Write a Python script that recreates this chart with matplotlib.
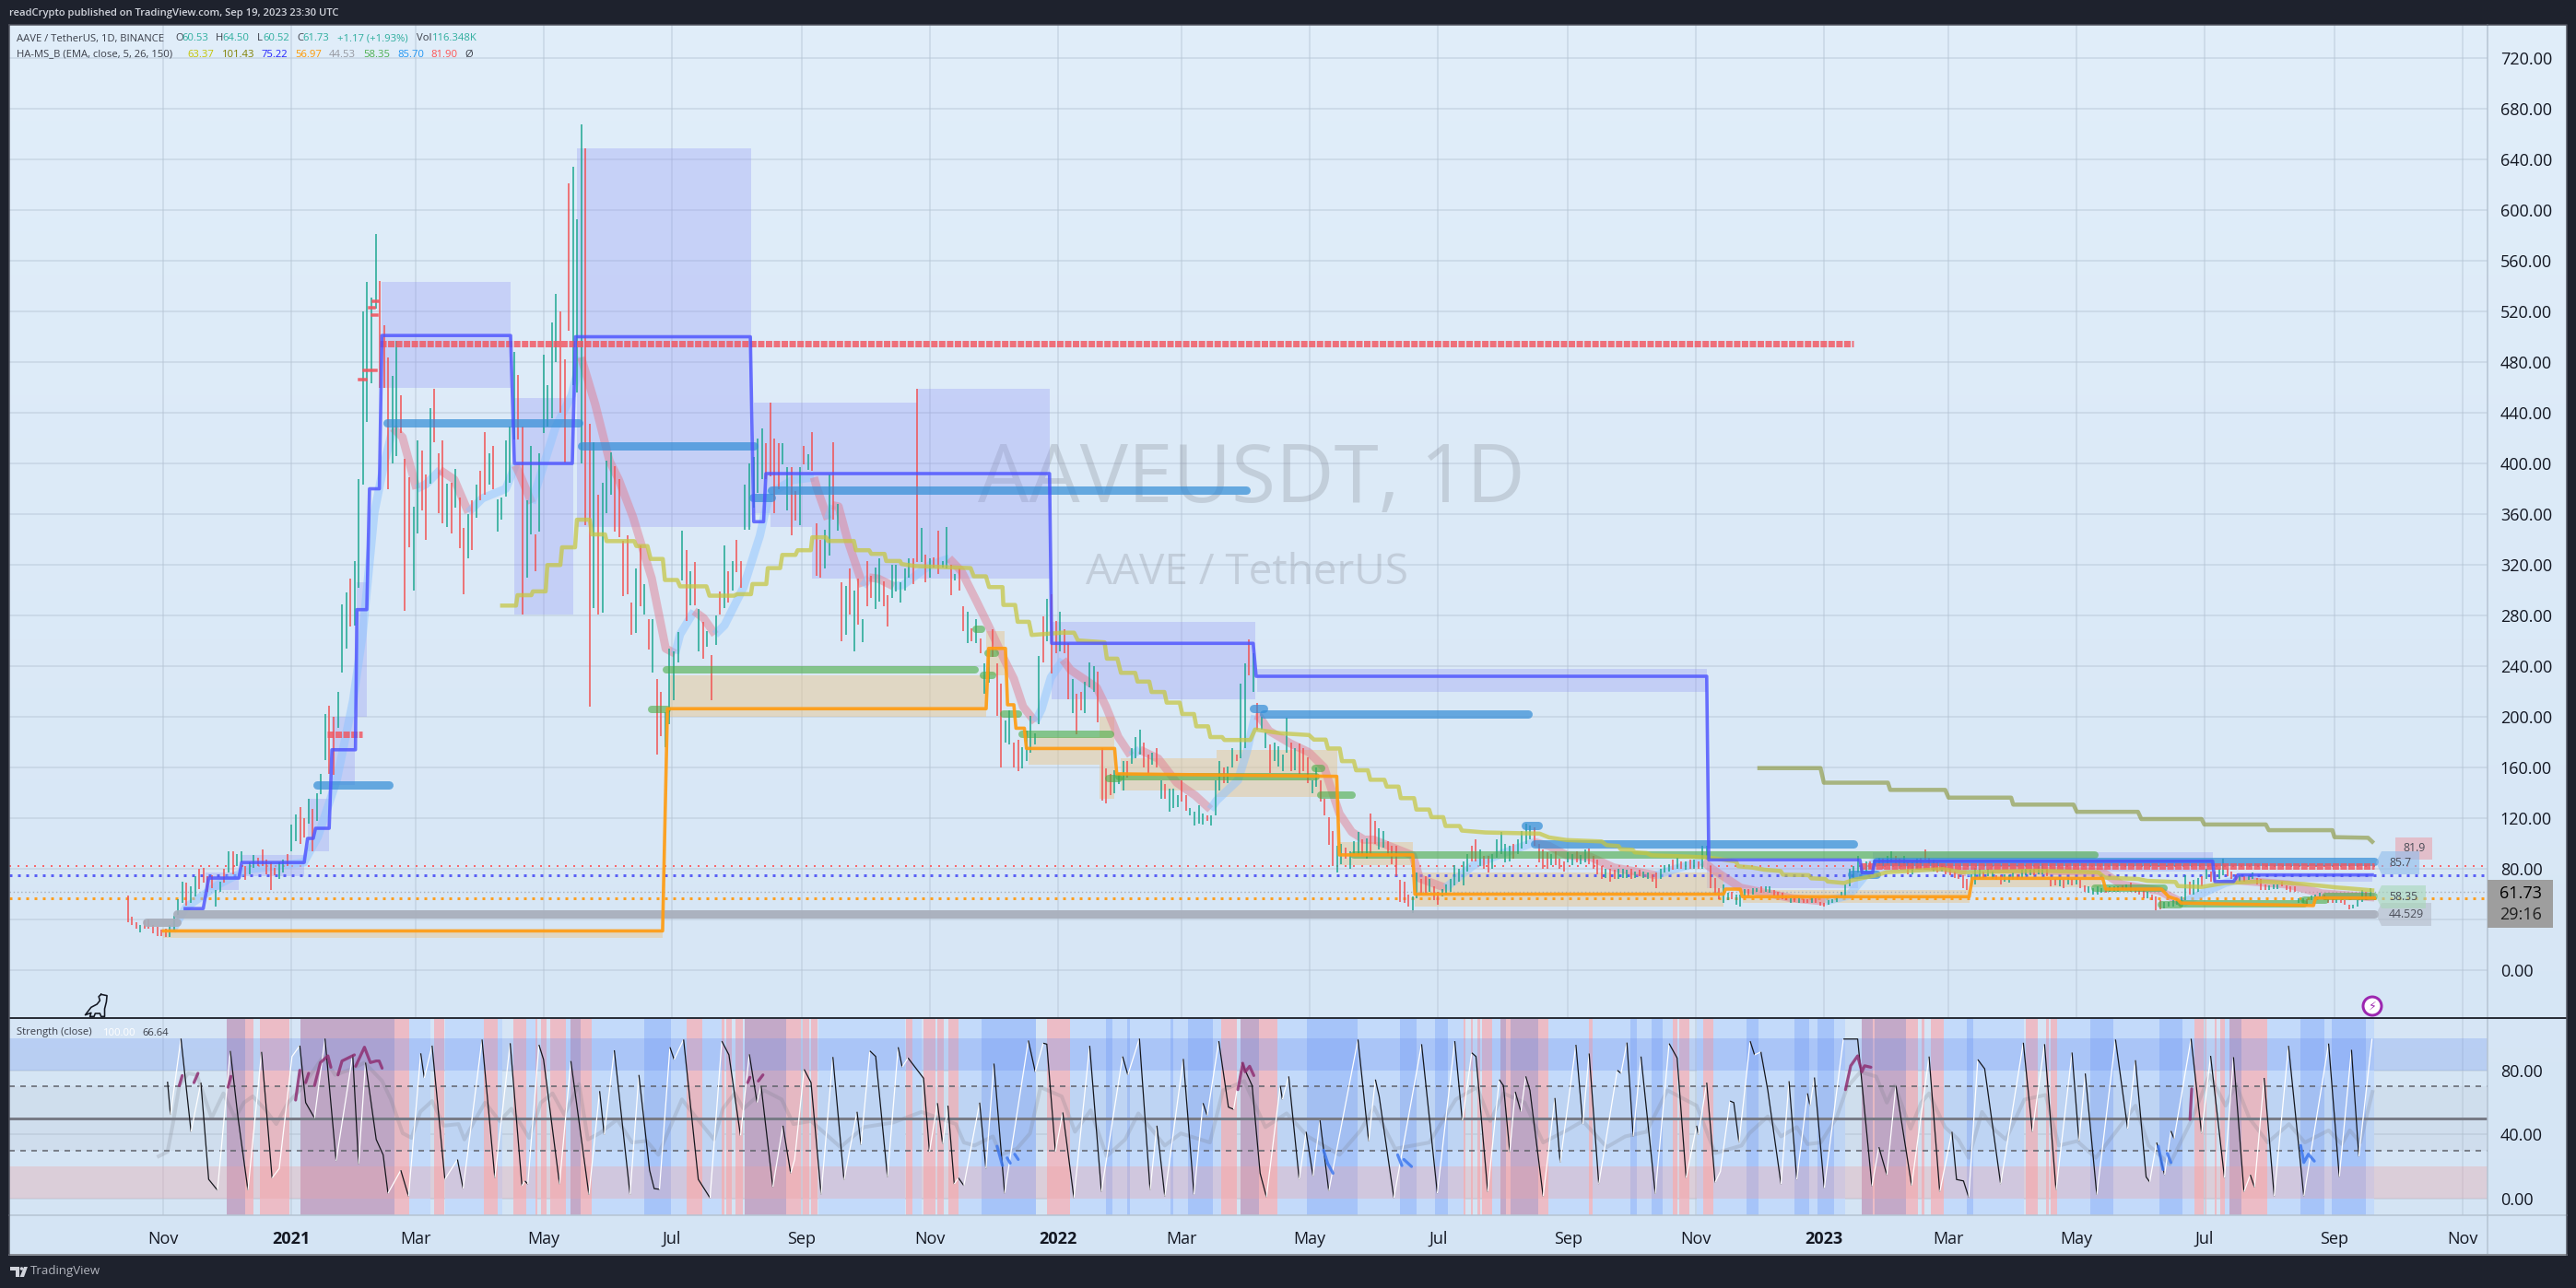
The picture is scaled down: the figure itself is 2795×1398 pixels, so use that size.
import datetime as dt
import numpy as np
import matplotlib
matplotlib.use("Agg")
import matplotlib.pyplot as plt
import matplotlib.dates as mdates
from matplotlib.collections import LineCollection
from matplotlib.patches import Polygon, Rectangle, Circle

# ---------- DATA (days are counted from 2020-11-01) ----------
candle_first_day = -17
candle_step = 2
candle_low = [38,36,33,30,33,33,29,27,27,26,26,
 31,44,53,51,53,58,64,69,62,65, 50,62,69,77,76,82,85,71,76,81,
 82,82,76,63,75,72,77,82,94,102, 100,105,116,94,118,139,166,155,154,191,
 235,254,271,272,302,383,433,463,522,460, 460,380,400,406,424,284,334,300,345,363,
 340,384,417,361,353,350,345,365,333,297, 325,332,357,371,375,383,380,346,356,374,
 385,419,419,281,310,344,315,346,424,429, 436,480,440,401,505,462,456,400,351,208,
 286,281,282,361,375,346,342,295,297,265, 266,287,281,253,235,170,185,176,194,213,243,
 308,276,288,288,252,246,255,213,257,281,286,290,300,314,302,348,348,365,377,
 388,388,390,361,380,399,363,343,355,351, 399,395,394,311,310,317,327,356,347,260,
 265,281,252,273,259,287,294,285,291,287, 271,294,299,290,300,310,305,322,322,306,
 310,318,313,318,317,296,308,300,268,258, 260,258,250,218,227,247,201,160,180,178,
 160,157,159,165,172,178,194,243,260,234, 250,252,250,214,203,186,205,203,223,220,
 196,134,132,138,140,147,142,152,163,167, 170,160,155,162,160,135,135,125,128,129,
 133,126,122,114,116,115,118,114,122,142, 148,148,160,165,167,175,233,220,190,190,
 175,156,165,161,157,172,157,158,155,157, 148,140,145,133,122,99,82,
 77,84,88,80,92,91,90,88,92,100, 95,97,90,84,74,54,53,50,45,57,
 60,60,62,55,52,58,60,62,67,70, 67,78,86,86,82,80,77,80,89,92,
 85,86,88,92,96,100,103,98,85,80, 80,83,83,80,78,
 85,83,85,84,85,84,80,76,72,73, 70,72,72,73,73,72,73,74,73,72,
 70,65,72,77,78,79,80,80,79,80, 80,80,80,87,65,60,56,53,55,56,
 52,50,58,58,60,62,61,62,61,59, 58,56,55,53,54,53,53,53,53,53,
 51,50,52,53,54,58,58,66,73,77, 76,77,80,83,82,80,83,85,84,80,
 82,76,76,80,80,87,84,78,77,78, 76,75,73,72,65,63,66,68,72,73,
 74,72,71,68,70,69,71,71,73,75, 75,75,76,76,74,66,67,66,65,68,
 67,68,65,62,61,60,60,61,61,62, 62,62,63,63,62,61,60,57,57,55,
 47,48,49,50,50,52,53,55,60,60, 62,66,72,70,70,72,75,74,72,71,
 70,70,71,72,68,63,63,63,64,64, 66,63,62,62,
 53,53,52,55,56,58,56,53,53,53,53,52,48,49,50,54,55,56]
candle_high = [59,42,38,36,39,40,36,34,32,33,36,
 43,56,70,69,66,74,80,81,74,75, 63,70,80,94,94,92,94,82,85,91,
 89,95,87,85,81,85,87,92,115,123, 129,120,135,127,140,155,202,209,200,220,
 289,298,309,323,388,520,543,531,581,544, 509,484,469,497,454,404,389,366,418,410,
 391,444,459,408,418,384,385,396,373,349, 360,371,383,394,425,408,414,372,373,418,
 429,488,470,429,371,414,344,408,486,462, 511,534,520,482,621,634,593,668,649,431,
 417,375,385,402,409,398,388,339,343,290, 317,335,305,277,277,230,220,204,254,252,267,
 347,332,315,322,285,275,268,249,280,299,335,315,323,340,323,383,400,405,420,
 428,416,448,420,416,416,397,397,378,397, 414,407,425,353,340,348,391,417,368,306,
 303,317,300,309,277,323,311,318,325,307, 296,320,320,306,317,325,325,459,349,328,
 325,326,347,323,350,320,313,317,287,283, 270,277,262,242,254,269,242,226,197,205,
 180,182,176,189,201,187,248,279,293,297, 276,283,269,258,230,218,220,228,243,240,
 236,175,159,155,158,156,165,165,175,184, 190,180,170,172,175,150,147,143,143,138,
 150,138,128,125,130,124,122,122,150,165, 160,161,175,170,226,242,261,250,211,200,
 188,178,180,177,170,199,180,175,179,175, 168,150,160,150,135,121,110,
 98,100,97,94,102,109,103,104,124,118, 112,110,102,98,98,71,70,60,58,77,
 72,74,72,66,62,64,68,72,83,80, 86,92,98,103,95,90,90,92,103,109,
 100,98,100,103,110,116,114,113,100,95, 93,92,94,88,86,
 93,92,94,91,95,96,90,87,82,80, 80,79,80,80,79,80,78,79,78,77,
 76,77,80,83,84,87,89,86,86,87, 87,86,98,98,82,73,65,68,61,62,
 60,60,64,64,65,65,66,66,66,63, 62,61,59,57,58,57,56,56,57,57,
 54,53,55,56,58,62,68,80,82,90, 84,86,86,87,89,88,90,94,90,88,
 90,85,85,88,89,95,89,87,85,84, 82,80,78,76,75,72,76,81,80,78,
 80,78,75,75,76,75,77,76,79,80, 79,80,82,84,80,71,72,72,71,73,
 72,72,71,67,66,65,66,65,65,66, 66,66,67,68,69,65,63,63,62,60,
 58,55,54,54,55,56,58,75,70,71, 73,74,80,78,78,80,88,80,78,76,
 75,74,75,77,73,72,68,67,68,68, 70,67,66,66,
 57,57,56,59,60,61,60,56,56,56,55,55,52,52,55,63,62,64.5]
candle_dir = ("rrrgrrrrrrg" "gggrggrrrr" "ggrgrggrgg" "rrrrrggrgg" "rrgrgggrrg"
 "ggrggggggr" "rrggrrrggr" "rgrrrgrgrr" "grgrrgrggg" "ggrrggrggg" "ggrrrgggrr"
 "grgggrrrrr" "grgrgrrgggg" "grgrgrgrgrgrgrrgggg" "grrrrggrrg" "rgrrrggrgr"
 "grgrgrrggr" "rgggggrrgr" "grrggrgrrg" "rgrggrrrgg" "rrgggggrgr" "rgrrgrrggg"
 "rrrrgggrgg" "grrgrgrggg" "rrggggrggg" "rggrggrgrg" "grggggrgrr" "rggrrrr"
 "ggrgggrgrr" "ggrrrrrrgg" "rrgrrggggg" "ggrrgrrggg" "ggrggggrrr" "rgrrr"
 "ggrggrrrrg" "rrgggrgrgg" "rrgggrgrgr" "grggrrrggr" "gggrggrggr" "rrrgrgrrgr"
 "rrgggggggg" "rgrggrggrr" "grggrrrgrg" "rrrrrrgggr" "ggrrgggrgg" "grggrrrgrg"
 "rgrrggggrg" "ggrgrrrrgr" "rrggggggrg" "grgrrggrrr" "grggrrrggg" "rrrr"
 "ggrgggrrrgrrrgggrg")

ema_day = [4,10.8,26.5,39.9,66.8,73.5,82.5,90.3,94.8,100.4,104.9,109.3,113.8,120.5,125,131.7,138.5,145.2,151.9,163,167.6,169.8,175.4,181,186.6,194.4,198.9,205.6,212.4,216.8,223.6,232.5,239.2,243.7,246,252.7,257.2,262.7,267.2,276.2,284,288.5,299.7,309.8,311.2,316.4,318.6,321.5,325.9,333.2,336.1,340.5,347.8,352.2,361,365.4,374.2,380,387.3,393.2,400.5,405,409.4,415.2,418.2,422.6,428.4,432,444.5,448.9,454.8,460.6,465,473.8,482.6,491.3,498.6,501.6,511.8,516.2,519.9,522,526.5,536.7,545.5,552.8,560.1,566,571.8,576.2,595,598.3,610.6,624,637.5,653.1,659.9,668.4,679.5,690.7,710.9,719.8,733.3,737.7,751.2,775.8,791.5,802.7,809.4,813.9,822.8,847.5,858.7,869.9,923.6,932.6,950.5,961.7,970.7,981.9,987,1012,1028,1053]
ema_val = [31,49.7,68,79.4,85,105.3,150,213,265,361,398.5,428,420.7,380,383.6,394.8,387.3,361.4,372.5,380,398.5,391,368.8,398.5,428,454,483.8,446.7,402,387.3,357.7,309.4,253.8,250,265,283.4,278,265,272.3,302,342.8,376,387,389,380.5,356,367,366,339,303,310,309,303,304,315,320,325,315,291,271,245,230,208,196,206,231,245,237,223,208,184,169.5,174,167,148,138,127,134,150,174,201,200,189,179,172,160,123.5,109,103,103,90.6,72.5,65,83,92,101,98,90.6,89.5,81,75,79.8,85.8,79.8,65,56.7,54.3,59,72.5,84.6,85.8,81,77.3,79.8,77.3,67.6,62.8,53,60.4,68.8,71,67.6,60.5,57.5]

blue_step_day = [10.3,18.9,21.5,35.9,37.2,67,68.6,71.3,72.4,78.9,80.2,91.4,92.1,96.8,98.1,102.8,104,165.3,167.1,194.7,196.2,279.5,281.1,285.8,286.9,422,423,519,520.4,735,736,808,809,814,815,976,977,986,988,1052]
blue_step_val = [48.6,48.6,72.7,72.7,85,85,104,104,112,112,174,174,284.6,284.6,380,380,501,501,400,400,500,500,354,354,392,392,258,258,232,232,87,87,77,77,86,86,70,70,75.2,75.2]

orange_step_day = [0,237.7,240,391.8,393,401,402,405,406,410,411,453,454,558.8,560,595,596,743,744,751,752,860,861.5,923.6,925,951.6,955,959.5,961,1024,1025,1053]
orange_step_val = [31,31,206.4,206.4,254,254,209.5,209.5,191,191,175,175,155,153,91,91,60,60,64,64,58,58,72.5,72.5,64,64,58,55.5,53,51,57,57]

olive_step_day = [161.3,167.9,168.6,175.2,175.9,182,182.8,189,189.8,196,196.9,203,204,210.3,211,224.2,225.2,230.5,232,237.8,238.8,244.7,246,258.6,260,271.7,273.2,279.8,280.5,287.1,287.8,293.7,294.7,301,302,308.3,309,315.6,316.4,328.8,329.8,336.1,337.1,343.4,344.2,350.8,351.5,358,384.4,385.9,391.7,393.2,399.6,400,405.6,406.8,412.2,413.5,428,433.7,435.5,448.2,449.3,454.3,456,462.8,463.9,469.5,470.6,476.7,477.8,484,485.2,490.8,491.9,497.5,498.6,504.2,505.3,517.6,519.9,532.2,545.6,547.9,553.5,554.6,560.2,561.3,566.9,568,573.6,574.8,581.5,582.6,588.2,589.3,595.6,596.7,602.8,603.9,609.5,610.6,617.3,618.4,629.6,655.4,659.9,668.4,685,687.3,693,694,699.7,700.8,706.4,708.6,721,735.5,749,750,756.8,762.4,770.2,771.3,783.6,784.8,791.5,792.6,800.4,805,816,820.6,847.5,856.4,892,921.4,924.7,940.4,944.9,958.3,959.4,970.7,981.9,999.8,1019.5,1035,1042.8,1052]
olive_step_val = [287.8,287.8,296,296,299,299,319.8,319.8,333.8,333.8,355.6,355.6,344,344,338.7,338.7,334.8,334.8,324.6,324.6,308,308,303,303,295.6,295.6,296.8,296.8,304.8,304.8,317.4,317.4,327.8,327.8,331.5,331.5,341.7,341.7,338.8,338.8,331.5,331.5,328.6,328.6,323,323,320.6,319,317.4,310.9,310.9,302.4,302.4,288.3,288.3,275,275,264.6,266.4,266.4,260.3,258.8,245.9,245.9,234.7,234.7,227.8,227.8,219.6,219.6,211.2,211.2,202.2,202.2,192.5,192.5,184,184,181.7,181.7,190,187,185.6,182,182,175,175,165,165,157.8,157.8,150.3,150.3,144.9,144.9,135.8,135.8,126.8,126.8,120.8,120.8,113.8,113.8,110.2,108.7,107.8,104.8,102.7,101.6,98.7,98,95.5,95,93,92.4,90.7,90,89,85.8,82,81,79.3,78.3,75.4,75,72.5,72,70,68.8,71.3,75,77.3,79.8,77.3,78.5,77.3,73,72,70.5,69.6,66.4,65.7,68.8,70,68,65.3,64.3,63]

dark_olive_day = [760.1,789.2,790.8,821.3,822.4,848.6,850.2,880,881,909.7,911.3,940.4,942,970.7,972,1001.3,1002.7,1033,1034,1050,1052]
dark_olive_val = [159.5,159.5,148,148,142.3,142.3,136.2,136.2,130.7,130.7,125,125,119.3,119.3,115,115,110.5,110.5,105,104.5,101.4]

lav_start = [20,37,68.6,80,92,104,167,197,281,289,309,359,423,521,735,814,986]
lav_end   = [36,67,79,91,97,165.5,195,280,289,309,359,422,520,735,807,976,1052]
lav_low   = [63,74,94,146,200,460,281,350,361,350,309,309,214,220,65,78,70]
lav_high  = [77,91,135,200,306,543,452,649,448,448,448,459,275,238,85,93,75.5]

tan_start = [0,241,391.7,412,446,456,501.6,560,596,752,861]
tan_end   = [237.7,392,400.8,446,453,501.6,559,595,743,860,923]
tan_low   = [25.5,200,233,162,135,142,137,83,50,53,65.7]
tan_high  = [31,233,268,184,200,167,174,101,77,63,78.5]

green_start = [232.5,239.6,387,390.5,392.7,400,409,450.4,455,548.5,551.3,567,920,951.6,961,1019.6,1029.7]
green_end   = [240,386.6,389.5,395,396,407,451,455,549,551.5,566,920,952.7,960.5,1019.6,1029.7,1053]
green_level = [205.5,237.4,269.4,232.6,250,202,186.5,151,153,159,138,91,64.7,51.6,52.6,55.5,58.35]

sky_start = [73,106.6,199,280.7,289.4,519,524,648.6,653,803.8,816]
sky_end   = [107.5,198,281,289.6,515.4,524,650,654.9,805,816,1053]
sky_level = [146,432,413.7,373,379,206.7,202,114,99.3,75.4,85.7]

grey_start = [-8,6.3]
grey_end   = [6.3,1053]
grey_level = [38,44.53]

red_start = [103,78,808]
red_end   = [805,94.8,1053]
red_level = [494.6,186,81.9]
cross_start = [93.5,95.5,98,100,99.5]
cross_end   = [96.5,101,100.5,102,101.5]
cross_level = [466,473.5,523,528,517]

last_red, last_blue, last_orange, last_price = 81.9, 75.22, 56.97, 61.73

mauve_start = [30,65,194,276.6,513,636.7,641.5,809,815,984]
mauve_end   = [39,110,198.7,296.7,521.8,639.5,654.9,814,829.9,989.9]
rose_start = [39,46,110,129,152.5,166.5,177,179.7,184,198.7,249,266,268,272.6,296.7,304.6,308.5,353.7,361.8,368.6,373.6,420.7,503.6,521.8,619,622.7,625.6,627.9,639.5,654.9,678.8,718.9,722,733.5,814,829.9,837.2,841.7,887,896.6,898.9,967.5,972.5,977,979.8,989.9,1000.7]
rose_end   = [43,60,117,133.5,159,172.6,178,182.5,191.7,204,256.7,267,270.5,276,303.7,307.4,311.5,356.5,367.8,371.6,378.6,431.6,511,530.6,620,623.7,627,632.7,641.5,659.6,680.6,721,726.7,738.3,815,835.7,838.7,848,892.9,898,901.9,971.5,973,978,981.8,1000.5,1002]
sky_band_start = [117,134,159,172.6,191.7,204,241.5,256.7,312,356.5,378.6,431.6,452,460.5,481,500,530.6,568.7,596.9,611.8,632.7,659.6,680.6,701.7,713.8,730.2,738.3,759.5,783.7,795.8,848,862,901.9,928.6,961.7,981.8,1002,1029,1049]
sky_band_end   = [127,152.5,161.5,177,194,229,249,266,353.2,361,389.5,448.7,458.8,479.4,488,503.6,544.7,588.8,605.5,619,636.7,678.8,698.7,708.8,718.9,733.5,754,777,787.8,800.9,858.8,886,917.8,950.8,967.5,984,1018,1032.8,1053]
deep_band_start = [229,389.5,448.7,458.8,479.4,488,544.7,588.8,605.5,698.7,708.8,754,777,787.8,858.8,917.8,950.8,1018,1032.8]
deep_band_end   = [241.5,415.7,452,460.5,481,500,568.7,596.9,611.8,701.7,713.8,759.5,783.7,795.8,862,928.6,961.7,1029,1049]

osc_day = [1.9,3.3,8.3,13.1,17.8,21.5,25.7,31.8,35.5,40.2,46.7,51.7,55.1,61.2,64.9,67.7,71.9,76.9,82.2,90.1,92.9,96.2,101.3,104.6,106.9,113,116.7,122.5,124.2,127.9,134,140,142.7,151.7,157.8,165.1,170.7,172.1,173.5,178.8,181,188.6,194,202.6,207.7,209.9,214.7,222.2,226.4,231.5,233.7,236.2,241.2,243.2,247.7,254.7,260.3,265.9,269.3,274.8,279,282.7,284.6,290.2,295,298.7,300.6,305.1,308.4,313.2,318.8,324.1,330.3,332.2,336.4,339.2,344.8,349.9,351.8,354.6,362,364.8,368.6,371.1,373.6,376.6,378.6,381.2,388.7,391.7,395.5,400.6,411.9,415.2,419,420.7,424.8,428.3,433.6,441.1,446.7,456.8,459.3,464.8,469.9,473.1,476.9,485.7,490.8,495.1,497.1,502.6,507.2,509.7,513.5,518.5,522.3,525.3,531.9,532.9,535.9,540.9,544.2,547.5,550.8,555,568.9,574,577.2,579,586,599.2,606.7,615,618.6,623.1,625.1,630.7,636.2,638.2,641.2,643.8,646.5,648.8,650.8,657.1,662.7,665.2,672.7,676,679,683.6,692.4,694.2,697,700,703.7,710.5,717.1,720.9,725.2,730.2,731,735,739,741.5,746.1,747.9,750.4,755.7,757.8,760.8,764.1,770.4,774.2,777.9,783,784.2,786.3,791,800.1,806.9,813.7,817,820.8,825.1,832.6,840.9,846,851.8,854,857.3,859.8,864.1,867.4,875,885.8,890.1,895.9,901.4,909,912.3,915.3,920.8,929.7,935.5,939.2,944.3,946,949.3,953.1,956.1,957.6,965.7,970.7,975,981.6,985.9,990.9,993.9,995.9,1000.5,1005.3,1012.1,1019.4,1031.2,1036.3,1042.1,1045.6,1051.9]
osc_val = [72.9,52.2,99.8,41.6,72.3,11.9,5.1,92.1,50.2,5.1,91.5,12.8,18.6,88.6,95.4,59.8,50.2,99.8,23.4,89.6,21.5,84.8,36.8,27.2,3.2,17.6,1.3,90.6,75.2,95.4,11.9,24.3,6.1,99.2,12.8,96.9,8,10.9,9,95.9,86.7,9,85.8,2.3,67,39.7,92.5,2.3,77.1,17.6,6.1,5.7,94.4,86.7,99.2,11.9,0.3,98.2,89.6,39.1,90,59.8,70.4,7.1,45.4,15.7,24.3,80.6,72.3,2.6,88.3,11.5,54.1,33.5,92.1,88.6,13.4,94.4,82,87.7,75,29.1,59.5,33.9,57.9,9,12.8,8,59.8,18.6,84.2,3.2,98.6,79,96.9,96.3,29.1,53.7,0.3,95.3,4.2,88.6,77.1,99.8,5.1,45.4,1.3,87.1,2.3,59.5,51.6,98.2,57,55.6,84.8,70.4,15.7,0.9,70.4,61.8,76.2,11.9,41.6,13.8,48.9,4.6,99.2,35.8,74.2,63.7,0.3,96.3,3.2,98.2,48.3,90.9,88.6,4.2,74.2,70.4,29.1,66.6,54.1,76.2,67.5,1.3,62.7,22.4,95.9,46.4,90.5,9,80,78.1,97.3,38.7,88.6,2.8,96.7,87.7,12.8,45.4,39.7,72.3,10,16.7,60.8,59.8,34.9,98.2,89.6,91.5,67.5,8.9,73.2,11.8,65.6,57.9,75.5,6.4,99.5,99.5,7.6,32,14.7,70.4,8,88.6,4.1,41.6,11.8,10.9,0.7,86.7,80.9,9,97.2,41.6,96.3,5.1,91.1,35.8,78,2.2,99.2,43.5,86.3,13.4,10.3,34.9,14.7,42.1,37.3,99.7,40.6,89,12.8,88.2,4.1,14.7,7,75.2,1.3,95.3,1.3,96.7,13.4,92.8,26.2,99.7]

rsi_day = [-2.3,1.9,4.7,7.5,11.7,15.9,22.9,28.5,34.1,38.3,42.5,48.1,53.7,59.3,64.9,76.1,81.7,90.1,95.7,104.1,108.3,113.9,118.1,122.3,127.9,133.5,140.5,143.3,148.9,153.1,160.1,165.7,174.1,179.7,185.3,190.9,197.9,202.1,207.7,216.1,223.1,230.1,235.7,241.3,246.9,253.9,262.2,266.4,272,276.2,286,294.4,300,308.4,322.4,333.6,347.6,361,377.4,381.2,386.2,395,398.8,406.4,412.7,417.7,427.8,434.1,441.6,449.2,458,464.3,476.9,484.5,498.4,504.6,514.7,524.8,534.9,545,560.1,570.2,576.5,586.6,602.9,615.5,625.6,631.9,638.2,648.3,657.1,668.5,676,687.4,696.2,706.3,716.3,730.2,739,751.6,755.3,764.1,770.4,777.9,783,789.3,796.8,801.9,808.2,815.7,820.8,824.6,832.1,837.2,840.9,848.5,854.8,859.8,866.1,872.4,877.5,886.3,896.4,902.7,911.5,920.3,930.4,939.2,945.5,955.6,965.7,974.5,982.1,987.1,993.4,1002.2,1012.3,1019.9,1031.2,1037.5,1041.3,1046.3,1052.1]
rsi_val = [26.3,29.1,48.3,70.4,78.1,77.1,50.2,65.6,50.2,59.8,63.7,56,46.4,59.8,67.5,88.6,77.1,81,84.8,73.3,61.8,40.7,37.8,54.1,60.8,45.4,46.4,36.8,50.2,59.8,48.3,56,37.8,59.8,65.6,52.2,71.4,36.8,40.7,49.3,34.9,35.9,27.2,44.5,61.8,50.2,36.8,56,65.6,56,67.5,61.8,46.4,48.3,32,44.5,47.4,54,46.4,34.9,33,38.7,27.2,31,40.6,69.4,63.7,41.6,55,26.3,36.8,53.1,33,40.6,34.9,67.5,73.3,44.5,53.1,38.7,27.2,42.6,57,31,34.9,61.8,69.4,48.3,65.6,59.8,34.9,42.6,48.3,32,38.7,41.6,67.5,57.9,28.2,33,40.6,51.2,38.7,44.5,33.9,34.9,50.2,69.4,79,76.1,59.8,70.4,43.5,59.8,65.6,44.5,36.8,25.3,54,42.5,36.8,61.7,64.6,33,35.8,25.3,42.5,57.9,33,21.4,48.3,77.1,57.9,71.3,50.2,34.9,46.4,34.9,42.5,33.9,42.5,34.9,66.5]

purple_runs = [([7.5,8.9],[70.4,76.7]),([14.5,16.4],[72.3,78.1]),([30.7,32.1],[69.4,76.2]),([62.9,64.9],[61.4,80]),([67.7,69.1],[72.3,78.1]),([71.9,74.7,78.3,79.7],[70.4,84.8,89,81.9]),([83.1,85,90.9],[77.1,85.8,89.6]),([91.5,95.7,98.5,101.3,102.7,104.1],[82.5,94.4,84.8,85.8,85.8,81.3]),([278.2,279.3],[72.3,75.6]),([283.3,285.5],[73.3,77.1]),([511.7,514,515.2,517.3,519.3],[67.9,84.4,79,82.5,76.7]),([801.1,803.6,806.9,808.9,810.2,813.2],[67.9,82.8,89,79,82.8,81.9]),([965.2,966],[49.3,68.4])]
blue_runs = [([397,399.6],[32.6,20.5]),([401.8,403.3],[25.3,22]),([405.4,407.1],[27.6,24.3]),([552.5,554.5,557],[30.1,21.8,15.7]),([587.8,589.8],[27.2,20.5]),([590.8,594.4],[24.3,19.9]),([950.1,952.3],[32.6,18]),([954.4,956.1],[28.1,22.4]),([1017.9,1019.4,1021.6,1024.4],[33,22.4,27.6,23.3])]

price_ticks = list(range(0, 721, 40))
strength_ticks = [0, 40, 80]
month_labels = [("2020-11-01","Nov"),("2021-01-01","2021"),("2021-03-01","Mar"),("2021-05-01","May"),("2021-07-01","Jul"),("2021-09-01","Sep"),("2021-11-01","Nov"),("2022-01-01","2022"),("2022-03-01","Mar"),("2022-05-01","May"),("2022-07-01","Jul"),("2022-09-01","Sep"),("2022-11-01","Nov"),("2023-01-01","2023"),("2023-03-01","Mar"),("2023-05-01","May"),("2023-07-01","Jul"),("2023-09-01","Sep"),("2023-11-01","Nov")]

# ---------- FIGURE ----------
W, H = 2795, 1398
DPI = 100
px = 72 / DPI
FONT = "Open Sans"
plt.rcParams["font.family"] = [FONT, "DejaVu Sans"]
fig = plt.figure(figsize=(W / DPI, H / DPI), dpi=DPI, facecolor="#1e222d")

def box(x0, y0, x1, y1):
    return [x0 / W, 1 - y1 / H, (x1 - x0) / W, (y1 - y0) / H]

bg = fig.add_axes(box(10, 27, 2785, 1362), zorder=0)
bg.imshow(np.linspace(0, 1, 256).reshape(-1, 1), aspect="auto", extent=(0, 1, 0, 1),
          cmap=matplotlib.colors.LinearSegmentedColormap.from_list("g", ["#e1eefa", "#d4e4f4"]))
bg.axis("off")

ax = fig.add_axes(box(10, 27, 2699, 1105), zorder=1, facecolor="none")
ax2 = fig.add_axes(box(10, 1105, 2699, 1319), zorder=1, facecolor="none")
ov = fig.add_axes([0, 0, 1, 1], zorder=5, facecolor="none")
ov.set_xlim(0, W); ov.set_ylim(H, 0); ov.axis("off")

base = mdates.date2num(dt.date(2020, 11, 1))
def T(days):
    return base + np.asarray(days, dtype=float)

grid_c = "#b4c3d3"
month_pos = [mdates.date2num(dt.date.fromisoformat(m[0])) for m in month_labels]
for a in (ax, ax2):
    a.set_xlim(base - 73.5, base + 1106.9)
    for s in a.spines.values():
        s.set_visible(False)
    a.set_xticks(month_pos)
    a.grid(True, color=grid_c, lw=1.5 * px, alpha=0.55, zorder=0.5)
    a.set_axisbelow(True)
    a.yaxis.tick_right()
    a.tick_params(length=0, labelsize=13, colors="#131722", pad=10)

# main pane
ax.set_ylim(-37.8, 746.2)
ax.set_yticks(price_ticks)
ax.set_yticklabels(["" if v == 40 else f"{v:.2f}" for v in price_ticks])
ax.tick_params(labelbottom=False)

ax.text(1358, 522, "AAVEUSDT, 1D", transform=ov.transData, ha="center", va="center",
        fontsize=63, color="#787b86", alpha=0.25, zorder=0.8)
ax.text(1353, 622, "AAVE / TetherUS", transform=ov.transData, ha="center", va="center",
        fontsize=33, color="#787b86", alpha=0.25, zorder=0.8)

for s, e, lo, hi in zip(lav_start, lav_end, lav_low, lav_high):
    ax.add_patch(Rectangle((T(s), lo), e - s, hi - lo, fc="#8f93f5", alpha=0.3, ec="none", zorder=1))
for s, e, lo, hi in zip(tan_start, tan_end, tan_low, tan_high):
    ax.add_patch(Rectangle((T(s), lo), e - s, hi - lo, fc="#e7c793", alpha=0.5, ec="none", zorder=1.1))

# full-width dotted levels
xl = ax.get_xlim()
ax.hlines(last_price, *xl, color="#a6afbb", lw=1.4 * px, linestyles=[(0, (1, 2))], zorder=1.2)
ax.hlines(last_red, *xl, color="#f8686c", lw=2 * px, linestyles=[(0, (1, 3.5))], zorder=1.3)
ax.hlines(last_blue, *xl, color="#5a60f5", lw=3 * px, linestyles=[(0, (1, 2))], zorder=1.3)
ax.hlines(last_orange, *xl, color="#ffa020", lw=3 * px, linestyles=[(0, (1, 2))], zorder=1.3)

def dir_runs(a, days, vals, up, down, lw, z, alpha=1.0, cap="round"):
    """Join consecutive same-direction legs so translucent strokes do not double up."""
    start = 0
    n = len(vals)
    while start < n - 1:
        rising = vals[start + 1] > vals[start]
        end = start + 1
        while end < n - 1 and (vals[end + 1] > vals[end]) == rising:
            end += 1
        a.plot(T(days[start:end + 1]), vals[start:end + 1], color=up if rising else down,
               lw=lw, alpha=alpha, zorder=z, solid_capstyle=cap, solid_joinstyle="round")
        start = end

dir_runs(ax, ema_day, ema_val, "#8fc4ff", "#e08094", 9 * px, 2, alpha=0.5, cap="butt")

cx = T(candle_first_day + candle_step * np.arange(len(candle_low)))
cc = ["#19a68f" if d == "g" else "#f24f4f" for d in candle_dir]
ax.vlines(cx, candle_low, candle_high, colors=cc, lw=1.5 * px, zorder=3)

def thick(starts, ends, levels, color, alpha, width, z):
    for s, e, v in zip(starts, ends, levels):
        ax.plot(T([s, e]), [v, v], color=color, alpha=alpha, lw=width * px,
                solid_capstyle="round", zorder=z)

thick(grey_start, grey_end, grey_level, "#a7adba", 0.9, 9, 3.2)
thick(green_start, green_end, green_level, "#4aac44", 0.6, 8, 3.4)
thick(sky_start, sky_end, sky_level, "#328cd6", 0.7, 9, 3.4)
for s, e, v in zip(red_start, red_end, red_level):
    ax.plot(T([s, e]), [v, v], color="#f2555f", alpha=0.82, lw=7 * px,
            linestyle=(0, (1.0, 0.22)), dash_capstyle="butt", zorder=3.5)
for s, e, v in zip(cross_start, cross_end, cross_level):
    ax.plot(T([s, e]), [v, v], color="#f2555f", alpha=0.9, lw=3.5 * px, zorder=3.5)

ax.plot(T(olive_step_day), olive_step_val, color="#c6c63f", alpha=0.72, lw=4.5 * px, zorder=3.6,
        solid_joinstyle="round")
ax.plot(T(dark_olive_day), dark_olive_val, color="#808a20", alpha=0.55, lw=4.5 * px, zorder=3.6,
        solid_joinstyle="round")
ax.plot(T(orange_step_day), orange_step_val, color="#ff9c12", alpha=0.92, lw=3.6 * px, zorder=4)
ax.plot(T(blue_step_day), blue_step_val, color="#4a50ff", alpha=0.8, lw=3.6 * px, zorder=4)

# strength pane
ax2.set_ylim(-10.5, 112.6)
ax2.set_yticks(strength_ticks)
ax2.set_yticklabels([f"{v:.2f}" for v in strength_ticks])
ax2.set_xticklabels([m[1] for m in month_labels])
ax2.tick_params(axis="x", pad=12, labelsize=13)
for lab, m in zip(ax2.get_xticklabels(), month_labels):
    if m[1].isdigit():
        lab.set_fontweight("bold")

for starts, ends, colour in [(sky_band_start, sky_band_end, "#c3dafa"),
                             (deep_band_start, deep_band_end, "#a6c4f9"),
                             (rose_start, rose_end, "#ecbcc6"),
                             (mauve_start, mauve_end, "#c3a9c8")]:
    for s, e in zip(starts, ends):
        ax2.axvspan(T(s), T(e), color=colour, lw=0, zorder=1)
ax2.axhspan(30, 70, color="#787b86", alpha=0.06, lw=0, zorder=1.2)
ax2.axhspan(80, 100, color="#6a90f0", alpha=0.27, lw=0, zorder=1.3)
ax2.axhspan(0, 20, color="#eca0a3", alpha=0.32, lw=0, zorder=1.3)
ax2.axhline(50, color="#787b86", lw=3 * px, zorder=2)
for lv in (70, 30):
    ax2.axhline(lv, color="#5d6068", lw=1.5 * px, linestyle=(0, (4, 4)), zorder=2)
ax2.plot(T(rsi_day), rsi_val, color="#787b86", alpha=0.22, lw=4 * px, zorder=2.5)
dir_runs(ax2, osc_day, osc_val, "#ffffff", "#14161c", 1.25 * px, 3, cap="butt")
for d, v in purple_runs:
    ax2.plot(T(d), v, color="#8e2f72", alpha=0.85, lw=3.2 * px, zorder=4, solid_capstyle="round")
for d, v in blue_runs:
    ax2.plot(T(d), v, color="#3f78ee", alpha=0.85, lw=3.2 * px, zorder=4, solid_capstyle="round")

# ---------- OVERLAY ----------
line_c = "#b5c3d2"
ov.plot([10, 2785], [1319, 1319], color=line_c, lw=1.5 * px)
ov.plot([2699, 2699], [27, 1362], color=line_c, lw=1.5 * px)
ov.plot([10, 2785], [1105, 1105], color="#2a2e39", lw=2 * px)
ov.plot([10, 2785], [1362, 1362], color="#8a8f98", lw=2 * px)
ov.plot([10, 2785, 2785], [27, 27, 1362], color="#50535e", lw=1.5 * px)
ov.plot([10, 10], [27, 1362], color="#50535e", lw=1.5 * px)

def say(x, y, s, color="#131722", size=8.15, **kw):
    ov.text(x, y, s, color=color, fontsize=size, va="center", ha=kw.pop("ha", "left"), **kw)

say(10, 15, "readCrypto published on TradingView.com, Sep 19, 2023 23:30 UTC", "#d1d4dc", fontweight="semibold")
teal = "#2fae9e"
for x, s, c in [(18, "AAVE / TetherUS, 1D, BINANCE", "#3b3f4a"), (190, "O", "#3b3f4a"), (197, "60.53", teal),
                (234, "H", "#3b3f4a"), (241.5, "64.50", teal), (279, "L", "#3b3f4a"), (285, "60.52", teal),
                (322, "C", "#3b3f4a"), (328.6, "61.73", teal), (366, "+1.17 (+1.93%)", teal),
                (452, "Vol", "#3b3f4a"), (469, "116.348K", teal)]:
    say(x, 42, s, c)
for x, s, c in [(18, "HA-MS_B (EMA, close, 5, 26, 150)", "#3b3f4a"), (203.6, "63.37", "#c4c400"), (241, "101.43", "#808000"),
                (283.5, "75.22", "#2222ff"), (320.5, "56.97", "#ff9800"), (357, "44.53", "#9598a1"),
                (394, "58.35", "#4caf50"), (431, "85.70", "#2196f3"), (467, "81.90", "#ff5252"), (504.5, "Ø", "#3b3f4a")]:
    say(x, 59, s, c)
say(18, 1121, "Strength (close)", "#3b3f4a")
say(112, 1121, "100.00", "#ffffff")
say(154, 1121, "66.64", "#3b3f4a")
say(33, 1380, "TradingView", "#b2b5be", size=9.5)

# TradingView mark
ov.add_patch(Polygon([(11, 1375), (21, 1375), (21, 1386), (17, 1386), (17, 1379), (11, 1379)], fc="#d1d4dc", ec="none"))
ov.add_patch(Circle((23.5, 1377), 1.8, fc="#d1d4dc", ec="none"))
ov.add_patch(Polygon([(26, 1375), (30, 1375), (26, 1386), (21.5, 1386)], fc="#d1d4dc", ec="none"))

# level tags
def tag(x0, x1, y0, y1, tip, fc, txt, textx):
    ymid = (y0 + y1) / 2
    pts = [(x0, y0), (x1, y0), (x1, y1), (x0, y1)]
    if tip is not None:
        pts = [(x0, y0), (x1, y0), (x1, y1), (x0, y1), (tip[0], tip[1])]
    ov.add_patch(Polygon(pts, fc=fc, ec="none", alpha=0.6, zorder=3))
    ov.text(textx, ymid, txt, color="#4a4d57", fontsize=8.8, va="center", ha="left", zorder=4)

tag(2599, 2639, 909, 933, None, "#e9a3ae", "81.9", 2607)
tag(2584, 2625, 924, 949, (2578, 936), "#8fbdec", "85.7", 2592)
tag(2584, 2638, 980, 1005, (2578, 992.5), "#b4bcc8", "44.529", 2592)
tag(2584, 2632, 961, 986, (2578, 973), "#a8d8b8", "58.35", 2592)

ov.add_patch(Rectangle((2699, 955), 71, 52, fc="#9e9e9e", ec="none", zorder=3))
ov.text(2735, 970, "61.73", color="#000000", fontsize=13, ha="center", va="center", zorder=4)
ov.text(2735, 993, "29:16", color="#1f1f1f", fontsize=13, ha="center", va="center", zorder=4)

# dinosaur doodle and bolt marker
dino = np.array([(172,88),(182,92),(181,112),(178,135),(178,160),(172,160),(170,150),(162,150),(160,160),(153,160),(155,148),(145,155),(155,130),(165,120),(170,108),(168,95),(172,88)], float)
ov.plot(dino[:, 0] / 1.568, 1050 + dino[:, 1] / 3, color="#131722", lw=1.6 * px)
ov.add_patch(Circle((2574, 1092), 10, fc="#ffffff", ec="#9c27b0", lw=3 * px, zorder=3))
ov.text(2574, 1092, "\u26a1", color="#9c27b0", fontsize=9, ha="center", va="center",
        family="DejaVu Sans", zorder=4)

fig.savefig("out.png", dpi=DPI, facecolor=fig.get_facecolor())
